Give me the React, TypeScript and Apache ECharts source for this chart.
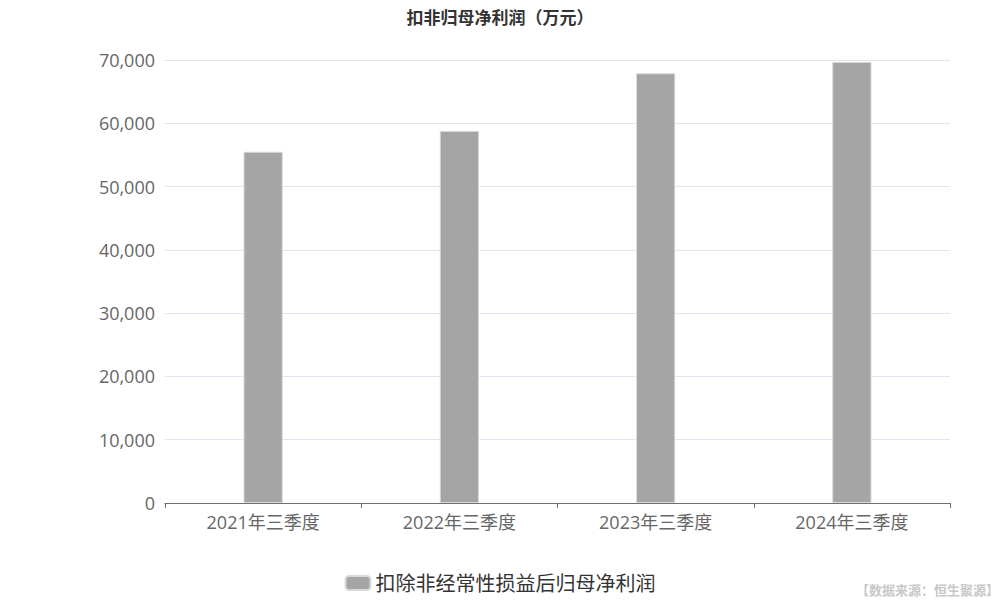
import React, { useEffect, useRef } from "react";
import * as echarts from "echarts";

const categories = ["2021年三季度", "2022年三季度", "2023年三季度", "2024年三季度"];
const values = [55500, 58800, 67900, 69700];
const seriesName = "扣除非经常性损益后归母净利润";
const titleText = "扣非归母净利润（万元）";
const sourceText = "【数据来源：恒生聚源】";

const FONT = '"Open Sans", "Noto Sans CJK SC", sans-serif';

export default function App() {
  const ref = useRef<HTMLDivElement>(null);
  useEffect(() => {
    if (!ref.current) return;
    const chart = echarts.init(ref.current, null, { renderer: "svg" });
    chart.setOption({
      animation: false,
      textStyle: { fontFamily: FONT },
      title: {
        text: titleText,
        left: "center",
        top: 4,
        textStyle: { fontSize: 17, fontWeight: "bold", color: "#333", fontFamily: FONT },
      },
      grid: { left: 165, right: 50, top: 60, bottom: 97 },
      legend: {
        bottom: 2,
        left: "center",
        itemWidth: 25,
        itemHeight: 14,
        itemGap: 10,
        textStyle: { fontSize: 20, color: "#333", fontFamily: FONT },
        data: [{ name: seriesName, icon: "roundRect" }],
      },
      xAxis: {
        type: "category",
        data: categories,
        axisLine: { lineStyle: { color: "#6e7079" } },
        axisTick: { show: true, alignWithLabel: false, lineStyle: { color: "#6e7079" } },
        axisLabel: { fontSize: 18, color: "#666", margin: 10, fontFamily: FONT },
      },
      yAxis: {
        type: "value",
        min: 0,
        max: 70000,
        interval: 10000,
        axisLine: { show: false },
        axisTick: { show: false },
        splitLine: { lineStyle: { color: "#e0e6f1" } },
        axisLabel: {
          fontSize: 18,
          color: "#666",
          margin: 10,
          fontFamily: FONT,
          formatter: (v: number) => v.toLocaleString("en-US"),
        },
      },
      series: [
        {
          name: seriesName,
          type: "bar",
          data: values,
          barWidth: "20%",
          itemStyle: { color: "#a5a5a5", borderColor: "#d9d9d9", borderWidth: 1 },
        },
      ],
      graphic: [
        {
          type: "text",
          right: 1,
          bottom: 4,
          style: { text: sourceText, fontSize: 13, fill: "#c8c8c8", fontFamily: FONT, fontWeight: "bold" },
        },
      ],
    });
    return () => chart.dispose();
  }, []);
  return <div ref={ref} style={{ width: 1000, height: 600, position: "absolute", left: 0, top: 0 }} />;
}
